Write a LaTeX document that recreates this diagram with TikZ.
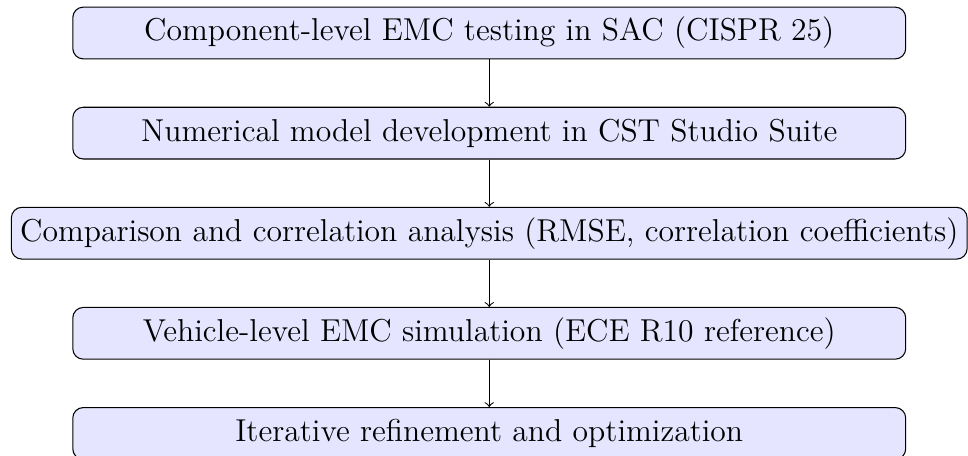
\documentclass[tikz,border=0pt]{standalone}
\usepackage{tikz}
\usetikzlibrary{positioning,arrows}

\begin{document}
\begin{tikzpicture}[node distance=0.63cm,
  stepbox/.style={draw, rounded corners, fill=blue!10, minimum width=11.1cm, minimum height=0.69cm, text centered, font=\large}]

  \useasboundingbox (-6.52,0.44) rectangle (6.38,-5.63);

  \node[stepbox] (test) {Component-level EMC testing in SAC (CISPR 25)};
  \node[stepbox, below=of test] (model) {Numerical model development in CST Studio Suite};
  \node[stepbox, below=of model] (corr) {Comparison and correlation analysis (RMSE, correlation coefficients)};
  \node[stepbox, below=of corr] (vehicle) {Vehicle-level EMC simulation (ECE R10 reference)};
  \node[stepbox, below=of vehicle] (refine) {Iterative refinement and optimization};

  \draw[->] (test) -- (model);
  \draw[->] (model) -- (corr);
  \draw[->] (corr) -- (vehicle);
  \draw[->] (vehicle) -- (refine);

\end{tikzpicture}
\end{document}
